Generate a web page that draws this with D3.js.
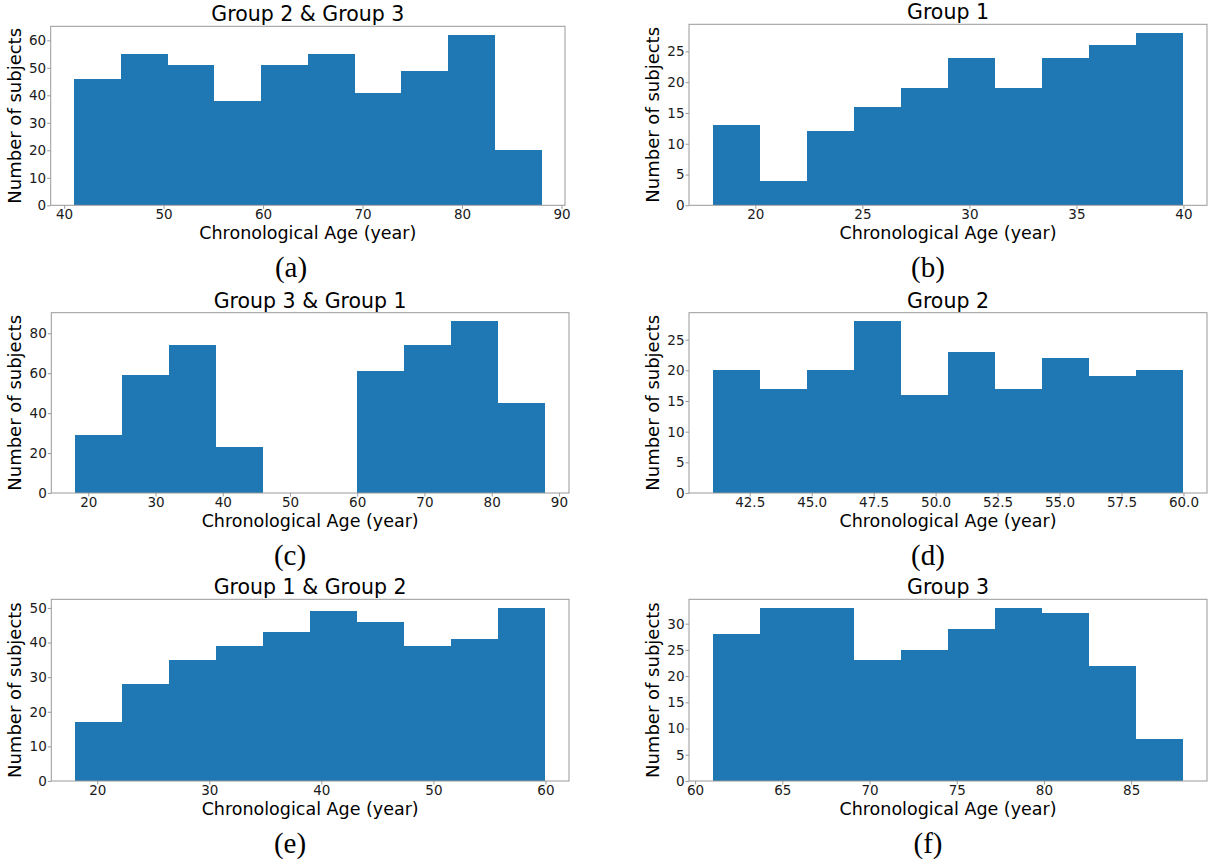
<!DOCTYPE html>
<html>
<head>
<meta charset="utf-8">
<script src="https://cdn.jsdelivr.net/npm/d3@7"></script>
<style>
  html, body { margin: 0; padding: 0; background: #fff; }
  svg { display: block; }
  text { font-family: "DejaVu Sans", sans-serif; }
</style>
</head>
<body>
<svg id="chart" width="1210" height="863"></svg>
<script>
// ---------------- data ----------------
const titles = ["Group 2 & Group 3", "Group 1", "Group 3 & Group 1", "Group 2", "Group 1 & Group 2", "Group 3"];
const captions = ["(a)", "(b)", "(c)", "(d)", "(e)", "(f)"];
const binRanges = [[41, 88], [18, 40], [18, 88], [41, 60], [18, 60], [61, 88]];
const countsA = [46, 55, 51, 38, 51, 55, 41, 49, 62, 20];
const countsB = [13, 4, 12, 16, 19, 24, 19, 24, 26, 28];
const countsC = [29, 59, 74, 23, 0, 0, 61, 74, 86, 45];
const countsD = [20, 17, 20, 28, 16, 23, 17, 22, 19, 20];
const countsE = [17, 28, 35, 39, 43, 49, 46, 39, 41, 50];
const countsF = [28, 33, 33, 23, 25, 29, 33, 32, 22, 8];
const xTicksA = [40, 50, 60, 70, 80, 90];
const xTicksB = [20, 25, 30, 35, 40];
const xTicksC = [20, 30, 40, 50, 60, 70, 80, 90];
const xTicksD = [42.5, 45.0, 47.5, 50.0, 52.5, 55.0, 57.5, 60.0];
const xTicksE = [20, 30, 40, 50, 60];
const xTicksF = [60, 65, 70, 75, 80, 85];
const yTicksA = [0, 10, 20, 30, 40, 50, 60];
const yTicksB = [0, 5, 10, 15, 20, 25];
const yTicksC = [0, 20, 40, 60, 80];
const yTicksD = [0, 5, 10, 15, 20, 25];
const yTicksE = [0, 10, 20, 30, 40, 50];
const yTicksF = [0, 5, 10, 15, 20, 25, 30];
const xLabel = "Chronological Age (year)";
const yLabel = "Number of subjects";

const counts = [countsA, countsB, countsC, countsD, countsE, countsF];
const xTicks = [xTicksA, xTicksB, xTicksC, xTicksD, xTicksE, xTicksF];
const yTicks = [yTicksA, yTicksB, yTicksC, yTicksD, yTicksE, yTicksF];
const xFormats = [d3.format("d"), d3.format("d"), d3.format("d"), d3.format(".1f"), d3.format("d"), d3.format("d")];

// ---------------- layout (pixel boxes of each axes) ----------------
const boxes = [
  {x0: 50.7, x1: 565, y0: 26.3, y1: 205.3},
  {x0: 689, x1: 1207, y0: 24.3, y1: 205.3},
  {x0: 51.3, x1: 569, y0: 312.7, y1: 493},
  {x0: 689, x1: 1207, y0: 312.7, y1: 493},
  {x0: 51.3, x1: 569, y0: 599.3, y1: 781},
  {x0: 689, x1: 1207, y0: 599.3, y1: 781}
];
const captionPos = [
  {x: 291, y: 277}, {x: 928, y: 277},
  {x: 290, y: 565}, {x: 928, y: 565},
  {x: 290, y: 853}, {x: 928, y: 853}
];

const barColor = "#1f77b4";
const spineColor = "#999999";
const textColor = "#1a1a1a";

const svg = d3.select("#chart");

counts.forEach((vals, i) => {
  const b = boxes[i];
  const [lo, hi] = binRanges[i];
  const nb = vals.length;
  const w = (hi - lo) / nb;
  const bins = vals.map((v, k) => ({x0: lo + k * w, x1: lo + (k + 1) * w, v}));
  const pad = 0.05 * (hi - lo);
  const x = d3.scaleLinear().domain([lo - pad, hi + pad]).range([b.x0, b.x1]);
  const ymax = d3.max(vals) * 1.05;
  const y = d3.scaleLinear().domain([0, ymax]).range([b.y1, b.y0]);

  const g = svg.append("g");

  // bars
  g.selectAll("rect.bar").data(bins.filter(d => d.v > 0)).join("rect")
    .attr("class", "bar")
    .attr("x", d => x(d.x0))
    .attr("width", d => x(d.x1) - x(d.x0))
    .attr("y", d => y(d.v))
    .attr("height", d => y(0) - y(d.v))
    .attr("fill", barColor)
    .attr("shape-rendering", "crispEdges");

  // frame
  g.append("rect")
    .attr("x", b.x0).attr("y", b.y0)
    .attr("width", b.x1 - b.x0).attr("height", b.y1 - b.y0)
    .attr("fill", "none").attr("stroke", spineColor).attr("stroke-width", 1);

  // x axis
  const gx = g.append("g").attr("transform", `translate(0,${b.y1})`)
    .call(d3.axisBottom(x).tickValues(xTicks[i]).tickFormat(xFormats[i]).tickSizeOuter(0).tickSize(3.5).tickPadding(1));
  gx.select(".domain").remove();
  gx.selectAll(".tick line").attr("stroke", spineColor);
  gx.selectAll(".tick text").attr("fill", textColor).style("font-size", "13.5px").style("font-family", "DejaVu Sans");

  // y axis
  const gy = g.append("g").attr("transform", `translate(${b.x0},0)`)
    .call(d3.axisLeft(y).tickValues(yTicks[i]).tickSizeOuter(0).tickSize(3.5).tickPadding(1));
  gy.select(".domain").remove();
  gy.selectAll(".tick line").attr("stroke", spineColor);
  gy.selectAll(".tick text").attr("fill", textColor).style("font-size", "13.5px").style("font-family", "DejaVu Sans");

  // title
  g.append("text")
    .attr("x", (b.x0 + b.x1) / 2).attr("y", b.y0 - 5)
    .attr("text-anchor", "middle").attr("fill", "#000")
    .style("font-size", "20.5px")
    .text(titles[i]);

  // x label
  g.append("text")
    .attr("x", (b.x0 + b.x1) / 2).attr("y", b.y1 + 33.5)
    .attr("text-anchor", "middle").attr("fill", "#000")
    .style("font-size", "17.5px")
    .text(xLabel);

  // y label
  g.append("text")
    .attr("transform", `translate(${b.x0 - 30},${(b.y0 + b.y1) / 2}) rotate(-90)`)
    .attr("text-anchor", "middle").attr("fill", "#000")
    .style("font-size", "18px")
    .text(yLabel);

  // caption
  svg.append("text")
    .attr("x", captionPos[i].x).attr("y", captionPos[i].y)
    .attr("text-anchor", "middle").attr("fill", "#000")
    .style("font-family", "'Liberation Serif', 'DejaVu Serif', serif")
    .style("font-size", "29px")
    .text(captions[i]);
});
</script>
</body>
</html>
